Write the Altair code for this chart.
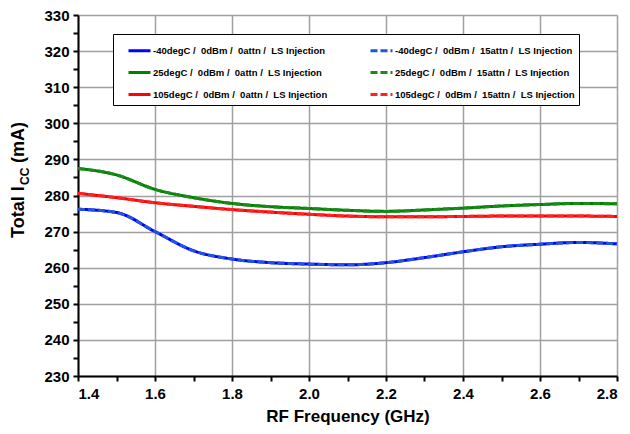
import altair as alt
import pandas as pd

freq = [1.4, 1.5, 1.6, 1.7, 1.8, 1.9, 2.0, 2.1, 2.2, 2.3, 2.4, 2.5, 2.6, 2.7, 2.8]

m40_0 = [276.2, 275.3, 270.0, 264.7, 262.4, 261.4, 261.0, 260.8, 261.4, 262.8, 264.4, 265.8, 266.5, 267.0, 266.6]
p25_0 = [287.5, 285.7, 281.7, 279.4, 277.8, 276.9, 276.4, 275.9, 275.6, 276.0, 276.5, 277.1, 277.5, 277.8, 277.7]
p105_0 = [280.6, 279.4, 278.0, 277.0, 276.1, 275.4, 274.8, 274.3, 274.1, 274.1, 274.2, 274.3, 274.3, 274.3, 274.2]
m40_15 = [276.2, 275.3, 270.0, 264.7, 262.4, 261.4, 261.0, 260.8, 261.4, 262.8, 264.4, 265.8, 266.5, 267.0, 266.6]
p25_15 = [287.5, 285.7, 281.7, 279.4, 277.8, 276.9, 276.4, 275.9, 275.6, 276.0, 276.5, 277.1, 277.5, 277.8, 277.7]
p105_15 = [280.6, 279.4, 278.0, 277.0, 276.1, 275.4, 274.8, 274.3, 274.1, 274.1, 274.2, 274.3, 274.3, 274.3, 274.2]

NB = "\u00a0"
names = [
    f"-40degC /{NB}{NB}0dBm /{NB}{NB}0attn /{NB}{NB}LS Injection",
    f"25degC /{NB}{NB}0dBm /{NB}{NB}0attn /{NB}{NB}LS Injection",
    f"105degC /{NB}{NB}0dBm /{NB}{NB}0attn /{NB}{NB}LS Injection",
    f"-40degC /{NB}{NB}0dBm /{NB}{NB}15attn /{NB}{NB}LS Injection",
    f"25degC /{NB}{NB}0dBm /{NB}{NB}15attn /{NB}{NB}LS Injection",
    f"105degC /{NB}{NB}0dBm /{NB}{NB}15attn /{NB}{NB}LS Injection",
]
series_vals = [m40_0, p25_0, p105_0, m40_15, p25_15, p105_15]
colors = ["#0000FF", "#008000", "#FF0000", "#2255DD", "#1A8A1A", "#FF2222"]
dashes = [[1, 0], [1, 0], [1, 0], [7, 3], [7, 3], [7, 3]]

rows = []
for i, (n, vals) in enumerate(zip(names, series_vals)):
    for f, v in zip(freq, vals):
        rows.append({"series": n, "order": i, "freq": f, "icc": v})
df = pd.DataFrame(rows)

FONT = "Liberation Sans"

xaxis = alt.Axis(
    values=[round(1.4 + 0.1 * k, 1) for k in range(15)],
    labelExpr="round(datum.value*10) % 2 == 0 ? format(datum.value, '.1f') : ''",
    gridOpacity={"condition": {"test": "round(datum.value*10) % 2 != 0", "value": 0}, "value": 1},
    title="RF Frequency (GHz)",
    titleFontSize=17, titleFont=FONT, titleFontWeight="bold", titlePadding=7,
    labelFontSize=15, labelFont=FONT, labelFontWeight="bold", labelPadding=5,
    labelColor="black", titleColor="black",
    domainColor="black", domainWidth=2, tickColor="black", tickWidth=2, tickSize=5,
    gridColor="#a0a0a0", gridWidth=1.5,
)
yaxis = alt.Axis(
    values=list(range(230, 331, 5)),
    labelExpr="datum.value % 10 == 0 ? datum.value : ''",
    gridOpacity={"condition": {"test": "datum.value % 10 != 0", "value": 0}, "value": 1},
    title=None,
    labelFontSize=15, labelFont=FONT, labelFontWeight="bold", labelPadding=4,
    labelColor="black",
    domainColor="black", domainWidth=2, tickColor="black", tickWidth=2, tickSize=5,
    gridColor="#a0a0a0", gridWidth=1.5,
)

lines = alt.Chart(df).mark_line(strokeWidth=3, interpolate="monotone").encode(
    x=alt.X("freq:Q", scale=alt.Scale(domain=[1.4, 2.8], nice=False), axis=xaxis),
    y=alt.Y("icc:Q", scale=alt.Scale(domain=[230, 330], nice=False), axis=yaxis),
    color=alt.Color("series:N", sort=names, scale=alt.Scale(domain=names, range=colors),
                    legend=alt.Legend(
                        title=None, orient="none", legendX=35, legendY=19, columns=2,
                        columnPadding=31, rowPadding=3, padding=4,
                        strokeColor="black", fillColor="white",
                        symbolType="stroke", symbolSize=484, symbolStrokeWidth=3,
                        symbolOffset=10,
                        labelFont=FONT, labelFontSize=9.5, labelFontWeight="bold",
                        labelOffset=1, labelLimit=300, labelColor="black",
                    )),
    strokeDash=alt.StrokeDash("series:N", sort=names, scale=alt.Scale(domain=names, range=dashes)),
    order="order:Q",
    detail="series:N",
)

t1 = alt.Chart(pd.DataFrame({"t": ["Total I"]})).mark_text(
    angle=270, align="left", baseline="middle", font=FONT,
    fontSize=18, fontWeight="bold", color="black").encode(
    text="t:N", x=alt.value(-59), y=alt.value(223))
t2 = alt.Chart(pd.DataFrame({"t": ["CC"]})).mark_text(
    angle=270, align="left", baseline="middle", font=FONT,
    fontSize=12, fontWeight="bold", color="black").encode(
    text="t:N", x=alt.value(-53), y=alt.value(170))
t3 = alt.Chart(pd.DataFrame({"t": ["(mA)"]})).mark_text(
    angle=270, align="left", baseline="middle", font=FONT,
    fontSize=18, fontWeight="bold", color="black").encode(
    text="t:N", x=alt.value(-59), y=alt.value(148))

chart = alt.layer(lines, t1, t2, t3).properties(
    width=539, height=361,
    autosize=alt.AutoSizeParams(type="none"),
    padding={"left": 70, "top": 7, "right": 5, "bottom": 50},
).configure_view(stroke=None).configure(background="white")

chart.save("out.html", embed_options={"renderer": "svg", "actions": False})
